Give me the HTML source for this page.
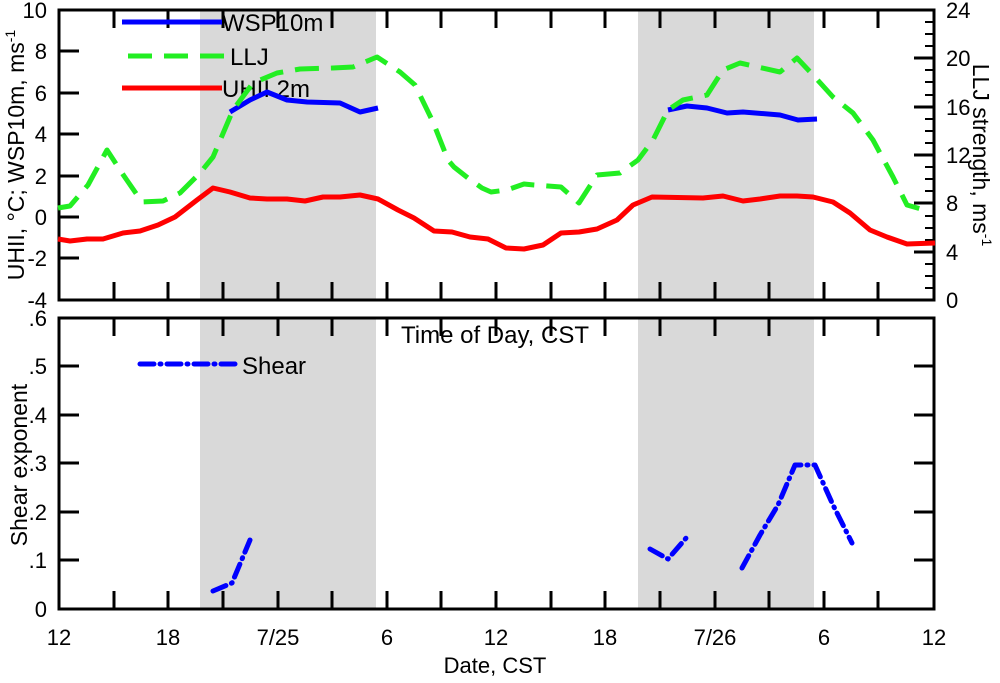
<!DOCTYPE html>
<html><head><style>body{margin:0;background:#fff}svg{display:block}text{font-family:"Liberation Sans",sans-serif;fill:#000}</style></head><body>
<svg width="1000" height="683" viewBox="0 0 1000 683" xmlns="http://www.w3.org/2000/svg">
<rect x="200" y="10" width="176" height="290" fill="#d9d9d9"/>
<rect x="638" y="10" width="176" height="290" fill="#d9d9d9"/>
<rect x="200" y="318" width="176" height="291" fill="#d9d9d9"/>
<rect x="638" y="318" width="176" height="291" fill="#d9d9d9"/>
<g stroke="#000" stroke-width="3" fill="none">
<rect x="59" y="10" width="875" height="290"/>
<rect x="59" y="318" width="875" height="291"/>
<path d="M114,10v18M168,10v18M223,10v18M278,10v18M332,10v18M387,10v18M441,10v18M496,10v18M551,10v18M605,10v18M660,10v18M715,10v18M769,10v18M824,10v18M878,10v18
M114,300v-18M168,300v-18M223,300v-18M278,300v-18M332,300v-18M387,300v-18M441,300v-18M496,300v-18M551,300v-18M605,300v-18M660,300v-18M715,300v-18M769,300v-18M824,300v-18M878,300v-18
M114,318v18M168,318v18M223,318v18M278,318v18M332,318v18M387,318v18M441,318v18M496,318v18M551,318v18M605,318v18M660,318v18M715,318v18M769,318v18M824,318v18M878,318v18
M114,609v-18M168,609v-18M223,609v-18M278,609v-18M332,609v-18M387,609v-18M441,609v-18M496,609v-18M551,609v-18M605,609v-18M660,609v-18M715,609v-18M769,609v-18M824,609v-18M878,609v-18
M59,51h20M59,93h20M59,134h20M59,176h20M59,217h20M59,258h20
M934,252h-20M934,203h-20M934,155h-20M934,107h-20M934,58h-20
M59,366h20M59,415h20M59,463h20M59,512h20M59,560h20
M934,366h-20M934,415h-20M934,463h-20M934,512h-20M934,560h-20"/>
<path stroke-width="2" d="M934,288h-9M934,276h-9M934,264h-9M934,240h-9M934,228h-9M934,216h-9M934,191h-9M934,179h-9M934,167h-9M934,143h-9M934,131h-9M934,119h-9M934,95h-9M934,82h-9M934,70h-9M934,46h-9M934,34h-9M934,22h-9"/>
</g>
<g font-size="22">
<g text-anchor="end">
<text x="47" y="18">10</text><text x="47" y="59">8</text><text x="47" y="101">6</text><text x="47" y="142">4</text><text x="47" y="184">2</text><text x="47" y="225">0</text><text x="47" y="266">-2</text><text x="47" y="308">-4</text>
<text x="47" y="326">.6</text><text x="47" y="374">.5</text><text x="47" y="423">.4</text><text x="47" y="471">.3</text><text x="47" y="520">.2</text><text x="47" y="568">.1</text><text x="47" y="617">0</text>
</g>
<text x="946" y="18">24</text><text x="946" y="66">20</text><text x="946" y="115">16</text><text x="946" y="163">12</text><text x="946" y="211">8</text><text x="946" y="260">4</text><text x="946" y="308">0</text>
<g text-anchor="middle">
<text x="59" y="645">12</text><text x="168" y="645">18</text><text x="278" y="645">7/25</text><text x="387" y="645">6</text><text x="496" y="645">12</text><text x="605" y="645">18</text><text x="715" y="645">7/26</text><text x="824" y="645">6</text><text x="934" y="645">12</text>
<text x="495" y="343" font-size="24">Time of Day, CST</text>
<text x="495" y="673">Date, CST</text>
</g>
<text transform="translate(24,155) rotate(-90)" text-anchor="middle" font-size="23">UHII, °C; WSP10m, ms<tspan font-size="14" dy="-9">-1</tspan></text>
<text transform="translate(973,155) rotate(90)" text-anchor="middle" font-size="23">LLJ strength, ms<tspan font-size="14" dy="-9">-1</tspan></text>
<text transform="translate(27,465) rotate(-90)" text-anchor="middle" font-size="23">Shear exponent</text>
<g font-size="24">
<text x="222" y="31">WSP10m</text>
<text x="230" y="65">LLJ</text>
<text x="222" y="97">UHII 2m</text>
<text x="242" y="374">Shear</text>
</g>
</g>
<g fill="none" stroke-width="5" stroke-linejoin="round">
<path stroke="#ff0000" d="M58,239L70,241L87,239L103,239L123,233L140,231L158,225L175,217L197,200L213,188L230,192L250,198L267,199L287,199L305,201L323,197L340,197L360,195L378,199L398,210L414,218L434,231L452,232L470,237L488,239L506,248L524,249L543,245L561,233L579,232L597,229L617,220L633,205L652,197L703,198L723,196L743,201L760,199L780,196L797,196L813,197L833,202L850,213L870,230L887,237L907,244L935,243M122,88H222"/>
<path stroke="#0000ff" d="M230,112L250,100L267,92L287,100L307,102L340,103L360,112L378,108M668,110L687,106L707,108L727,113L743,112L780,115L798,120L817,119M122,22H222"/>
<path stroke="#22ee22" stroke-dasharray="24,12" d="M58,208L70,206L88,185L107,150L124,176L142,202L163,201L180,193L200,173L213,157L233,110L253,83L277,73L300,69L333,68L353,67L377,57L400,72L415,85L433,122L448,160L454,167L468,178L482,188L491,192L507,190L524,184L534,185L561,187L579,203L597,175L620,173L638,160L653,140L668,110L683,100L707,95L723,70L740,63L780,72L797,58L813,75L833,97L853,113L873,140L893,177L907,205L928,211M128,56H228"/>
<path stroke="#0000ff" stroke-linecap="round" stroke-dasharray="14,6,1,6" d="M213,591L232,583L250,540M650,549L668,559L687,537M742,568L760,535L778,505L795,465L815,465L833,505L852,543M140,364H240"/>
</g>
</svg>
</body></html>
